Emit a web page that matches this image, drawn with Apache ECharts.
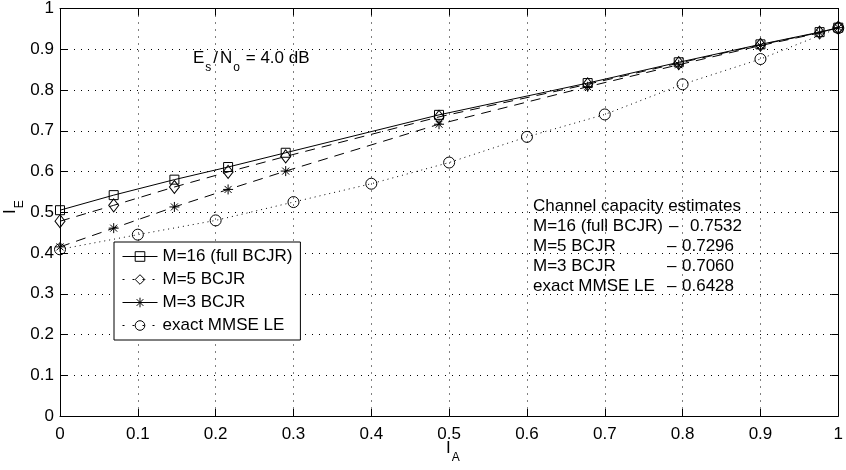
<!DOCTYPE html>
<html>
<head>
<meta charset="utf-8">
<script src="https://cdn.jsdelivr.net/npm/echarts@6/dist/echarts.min.js"></script>
<style>
html,body{margin:0;padding:0;background:#fff;}
#c{width:846px;height:470px;}
</style>
</head>
<body>
<div id="c"></div>
<script>
// ---- data ----
const xBCJR = [0, 0.069, 0.147, 0.216, 0.29, 0.487, 0.678, 0.795, 0.9, 0.976, 1.0];
const m16 = [0.505, 0.542, 0.580, 0.611, 0.646, 0.739, 0.817, 0.868, 0.912, 0.942, 0.953];
const m5  = [0.478, 0.517, 0.562, 0.599, 0.637, 0.734, 0.814, 0.866, 0.911, 0.941, 0.953];
const m3  = [0.415, 0.461, 0.513, 0.556, 0.601, 0.716, 0.808, 0.862, 0.909, 0.940, 0.953];
const xMMSE = [0, 0.1, 0.2, 0.3, 0.4, 0.5, 0.6, 0.7, 0.8, 0.9, 1.0];
const mmse = [0.409, 0.445, 0.480, 0.525, 0.570, 0.622, 0.685, 0.740, 0.814, 0.876, 0.952];
const seriesNames = ['M=16 (full BCJR)', 'M=5 BCJR', 'M=3 BCJR', 'exact MMSE LE'];
const capTitle = 'Channel capacity estimates';
const capLabels = ['M=16 (full BCJR)', 'M=5 BCJR', 'M=3 BCJR', 'exact MMSE LE'];
const capValues = ['0.7532', '0.7296', '0.7060', '0.6428'];

const FONT = '"Liberation Sans", Arial, Helvetica, sans-serif';
const FS = 17;
const pair = (xs, ys) => xs.map((x, i) => [x, ys[i]]);
const starPath = 'path://M5,0L5,10M0,5L10,5M1.5,1.5L8.5,8.5M1.5,8.5L8.5,1.5';

const chart = echarts.init(document.getElementById('c'), null, {renderer: 'canvas'});

const axisCommon = {
  type: 'value', min: 0, max: 1, interval: 0.1,
  axisLine: {show: true, onZero: false, lineStyle: {color: '#000', width: 1}},
  axisTick: {show: true, inside: true, length: 7, lineStyle: {color: '#000', width: 1}},
};

function mk(name, ys, xs, symbol, size, dash) {
  return {
    name: name, type: 'line', data: pair(xs, ys),
    symbol: symbol, symbolSize: size, showSymbol: true,
    lineStyle: {color: '#000', width: 1, type: dash},
    itemStyle: {color: 'rgba(0,0,0,0)', borderColor: '#000', borderWidth: 1},
    emphasis: {disabled: true},
    animation: false
  };
}

const sub = {fontSize: 12, lineHeight: 12, verticalAlign: 'bottom', fontFamily: FONT, fill: '#000', padding: [0, 1, 0, 1]};
const base = {fontSize: FS, lineHeight: 17, padding: [0, 0, 7, 0], verticalAlign: 'bottom', fontFamily: FONT, fill: '#000'};
const slash = Object.assign({}, base, {padding: [0, 2, 7, 1]});

const txt = (x, y, t) => ({type: 'text', x: x, y: y, style: {text: t, fontSize: FS, fontFamily: FONT, fill: '#000', textVerticalAlign: 'middle'}});

const graphics = [];
graphics.push({
  type: 'text', x: 193, y: 57,
  style: {text: '{b|E}{s|s}{sl|/}{b|N}{s|o}{b| = 4.0 dB}', rich: {b: base, s: sub, sl: slash}}
});
graphics.push(txt(533, 206, capTitle));
capLabels.forEach((t, i) => {
  const y = 226 + i * 20;
  graphics.push(txt(533, y, t));
  graphics.push(txt(i === 0 ? 669 : 667, y, '\u2013'));
  graphics.push(txt(i === 0 ? 690 : 682, y, capValues[i]));
});
// axis names
graphics.push({
  type: 'text', x: 446, y: 447,
  style: {text: '{b|I}{s|A}', rich: {b: base, s: sub}}
});
graphics.push({
  type: 'text', x: 9, y: 214, rotation: Math.PI / 2,
  style: {text: '{b|I}{s|E}', rich: {b: base, s: sub}}
});

chart.setOption({
  animation: false,
  textStyle: {fontFamily: FONT},
  grid: {left: 60, right: 4, top: 7, bottom: 54, containLabel: false},
  xAxis: [
    Object.assign({}, axisCommon, {
      position: 'bottom',
      axisLabel: {fontSize: FS, color: '#000', margin: 10, fontFamily: FONT},
      splitLine: {show: true, lineStyle: {color: '#000', width: 1, type: [1, 6]}}
    }),
    Object.assign({}, axisCommon, {
      position: 'top', axisLabel: {show: false}, splitLine: {show: false}
    })
  ],
  yAxis: [
    Object.assign({}, axisCommon, {
      position: 'left',
      axisLabel: {fontSize: FS, color: '#000', margin: 6, fontFamily: FONT},
      splitLine: {show: true, lineStyle: {color: '#000', width: 1, type: [1, 6]}}
    }),
    Object.assign({}, axisCommon, {
      position: 'right', axisLabel: {show: false}, splitLine: {show: false}
    })
  ],
  legend: {
    orient: 'vertical', left: 114, top: 242,
    data: [
      {name: seriesNames[0]},
      {name: seriesNames[1], lineStyle: {type: [2, 8]}},
      {name: seriesNames[2], lineStyle: {type: 'solid'}},
      {name: seriesNames[3], lineStyle: {type: [2, 8]}}
    ],
    itemWidth: 35, itemHeight: 12, itemGap: 6,
    itemStyle: {borderWidth: 1, color: 'rgba(0,0,0,0)', borderColor: '#000'},
    lineStyle: {width: 1, color: '#000'},
    padding: [6, 8, 6, 8],
    borderColor: '#000', borderWidth: 1, backgroundColor: '#fff',
    textStyle: {fontSize: FS, color: '#000', fontFamily: FONT, lineHeight: 14},
    selectedMode: false
  },
  series: [
    mk(seriesNames[0], m16, xBCJR, 'rect', 9, 'solid'),
    mk(seriesNames[1], m5, xBCJR, 'diamond', [10, 13], [10, 7]),
    mk(seriesNames[2], m3, xBCJR, starPath, 10, [10, 7]),
    mk(seriesNames[3], mmse, xMMSE, 'circle', 11, [1, 4])
  ],
  graphic: graphics
});
</script>
</body>
</html>
